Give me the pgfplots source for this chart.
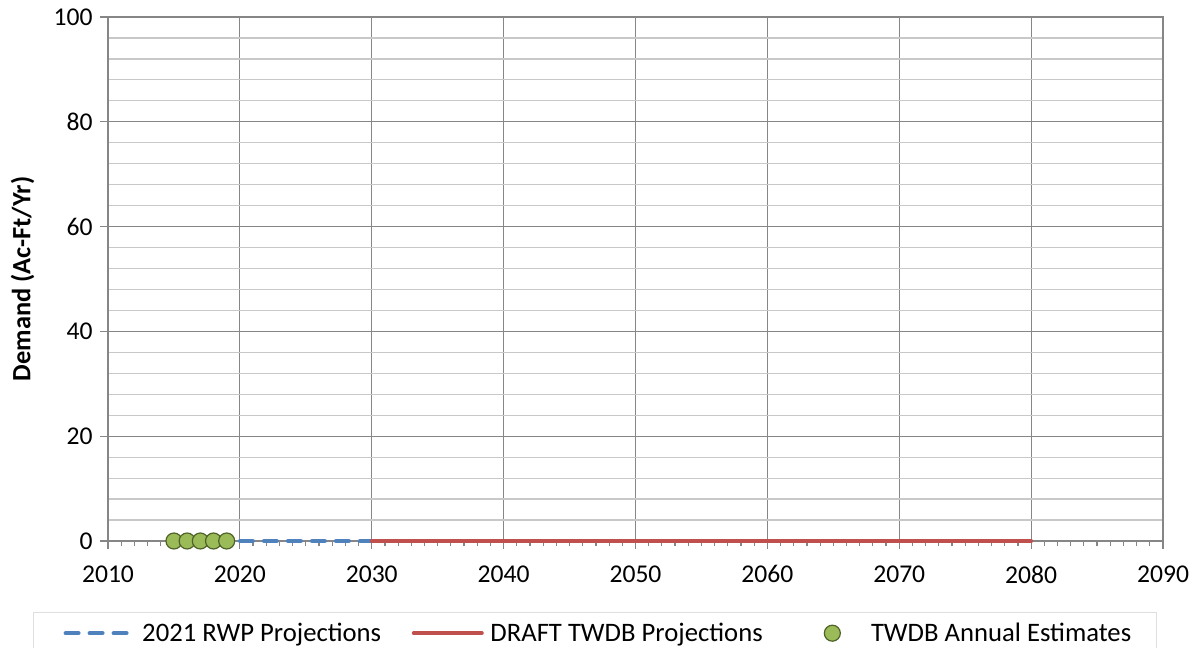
\documentclass[border=0pt]{standalone}
\usepackage{pgfplots}
\pgfplotsset{compat=1.18}
\usepackage{fontspec}
\setmainfont{Carlito}
\usetikzlibrary{calc}
\definecolor{rwpblue}{RGB}{79,129,189}
\definecolor{twdbred}{RGB}{192,80,77}
\definecolor{estgreen}{RGB}{155,187,89}
\definecolor{estedge}{RGB}{79,98,40}
\definecolor{majgrid}{RGB}{134,134,134}
\definecolor{mingrid}{RGB}{200,200,200}
\pgfplotsset{
  rwplegend/.style={legend image code/.code={\path[draw=none,fill=none] (0pt,0pt) -- (79.75pt,0pt);\draw[##1] (24.25pt,0pt) -- (70.5pt,0pt);}},
  redlegend/.style={legend image code/.code={\path[draw=none,fill=none] (0pt,0pt) -- (78pt,0pt);\draw[##1] (22.5pt,0pt) -- (73.5pt,0pt);}},
  dotlegend/.style={legend image code/.code={\path[draw=none,fill=none] (0pt,0pt) -- (77.25pt,0pt);\draw[only marks,mark repeat=1,##1] plot coordinates {(50.25pt,0pt)};}},
}
\begin{document}
\begin{tikzpicture}
\begin{axis}[
  scale only axis,
  width=791.25pt, height=393pt,
  xmin=2010, xmax=2090, ymin=0, ymax=100,
  xtick={2010,2020,...,2090},
  minor x tick num=9,
  ytick={0,20,...,100},
  minor ytick={4,8,12,16,24,28,32,36,44,48,52,56,64,68,72,76,84,88,92,96},
  /pgf/number format/assume math mode=true,
  /pgf/number format/1000 sep={},
  tick label style={font=\fontsize{19.2}{23}\selectfont},
  tick align=outside,
  tick pos=left,
  major tick length=6pt,
  minor tick length=4pt,
  every tick/.style={majgrid, line width=0.9pt},
  minor y tick style={draw=none},
  grid=both,
  major grid style={majgrid, line width=0.9pt},
  minor grid style={mingrid, line width=0.9pt},
  minor x grid style={draw=none},
  axis line style={majgrid, line width=0.9pt},
  xticklabel style={yshift=-9pt},
  yticklabel style={xshift=-2pt},
  ylabel={\bfseries Demand (Ac-Ft/Yr)},
  ylabel style={font=\fontsize{19.8}{23}\selectfont, at={(rel axis cs:0,0.5)}, anchor=center, yshift=64pt},
  legend columns=3,
  legend style={at={(rel axis cs:-0.0711,-0.1355)}, anchor=north west,
    draw=gray!25, fill=white, font=\fontsize{20}{24}\selectfont,
    inner xsep=0pt, inner ysep=6pt,
    /tikz/every even column/.append style={column sep=0pt}},
  legend cell align=left,
  clip=false,
]
\addplot[rwpblue, line width=3pt, line cap=round, dash pattern=on 9.75pt off 8.25pt, rwplegend]
  coordinates {(2020,0) (2030,0)};
\addlegendentry{2021 RWP Projections}
\addplot[twdbred, line width=3pt, line cap=round, redlegend]
  coordinates {(2030,0) (2040,0) (2050,0) (2060,0) (2070,0) (2080,0)};
\addlegendentry{DRAFT TWDB Projections}
\addplot[only marks, mark=*, mark size=6pt, mark options={fill=estgreen, draw=estedge, line width=0.9pt}, dotlegend]
  coordinates {(2015,0) (2016,0) (2017,0) (2018,0) (2019,0)};
\addlegendentry{TWDB Annual Estimates\hspace*{17pt}}
\end{axis}
\pgfresetboundingbox
\path ($(current axis.south west)+(-81pt,-80.25pt)$) rectangle ($(current axis.north east)+(26.25pt,12.75pt)$);
\end{tikzpicture}
\end{document}
